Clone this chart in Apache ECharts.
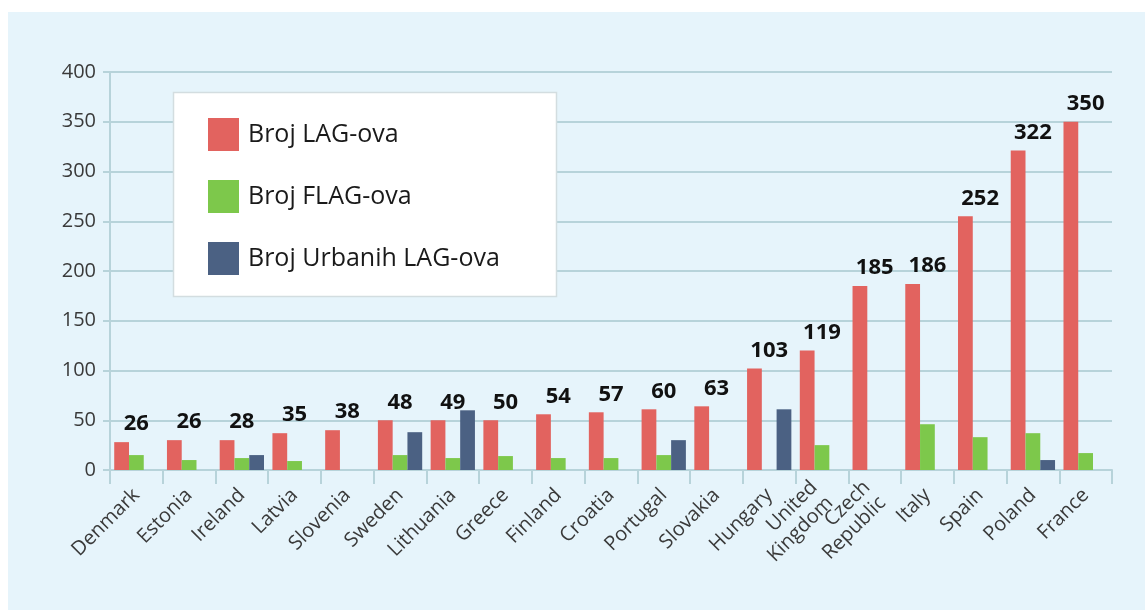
<!DOCTYPE html>
<html>
<head>
<meta charset="utf-8">
<script src="https://cdn.jsdelivr.net/npm/echarts@6/dist/echarts.min.js"></script>
<style>
html,body{margin:0;padding:0;background:#fff;}
#chart{width:1145px;height:610px;}
</style>
</head>
<body>
<div id="chart"></div>
<script>
var categories = ['Denmark','Estonia','Ireland','Latvia','Slovenia','Sweden','Lithuania','Greece','Finland','Croatia','Portugal','Slovakia','Hungary','United\nKingdom','Czech\nRepublic','Italy','Spain','Poland','France'];
var seriesNames = ['Broj LAG-ova','Broj FLAG-ova','Broj Urbanih LAG-ova'];
var lagValues   = [28, 30, 30, 37, 40, 50, 50, 50, 56, 58, 61, 64, 102, 120, 185, 187, 255, 321, 350];
var flagValues  = [15, 10, 12, 9, null, 15, 12, 14, 12, 12, 15, null, null, 25, null, 46, 33, 37, 17];
var urbanValues = [null, null, 15, null, null, 38, 60, null, null, null, 30, null, 61, null, null, null, null, 10, null];
var lagLabels   = ['26','26','28','35','38','48','49','50','54','57','60','63','103','119','185','186','252','322','350'];
var yTicks = {min: 0, max: 400, interval: 50};

var colors = ['#e2635f', '#7dc84b', '#4b6183'];
var font = 'Open Sans';
var gridLeft = 110, gridRight = 33;
var catW = (1145 - gridLeft - gridRight) / categories.length;
var gapPct = 0.16;
var barW = catW * (1 - gapPct) / 3;

var chart = echarts.init(document.getElementById('chart'), null, {renderer: 'canvas'});
chart.setOption({
  backgroundColor: '#ffffff',
  animation: false,
  textStyle: {fontFamily: font},
  graphic: [
    {type: 'rect', z: -10, shape: {x: 8, y: 12, width: 1145, height: 610}, style: {fill: '#e6f4fb'}},
    {type: 'rect', z: 3, shape: {x: 173.5, y: 92.5, width: 383, height: 204}, style: {fill: '#ffffff', stroke: '#d3dde0', lineWidth: 1.5}}
  ],
  legend: {
    orient: 'vertical',
    left: 203, top: 113,
    itemWidth: 31, itemHeight: 33, itemGap: 29,
    icon: 'rect',
    z: 5,
    textStyle: {fontFamily: font, fontSize: 25, color: '#1a1a1a', padding: [0, 0, 0, 4]},
    data: seriesNames
  },
  grid: {left: gridLeft, right: gridRight, top: 72, bottom: 140, containLabel: false, outerBoundsMode: 'none'},
  xAxis: {
    type: 'category',
    data: categories,
    axisLine: {show: true, lineStyle: {color: '#b7d3da', width: 2}},
    axisTick: {show: true, length: 14, lineStyle: {color: '#b7d3da', width: 2}},
    axisLabel: {rotate: 45, margin: 22, fontSize: 20, color: '#3a3a3a', fontFamily: font, interval: 0, lineHeight: 22}
  },
  yAxis: {
    type: 'value',
    min: yTicks.min, max: yTicks.max, interval: yTicks.interval,
    axisLine: {show: true, lineStyle: {color: '#b7d3da', width: 2}},
    axisTick: {show: true, length: 7, lineStyle: {color: '#b7d3da', width: 2}},
    splitLine: {show: true, lineStyle: {color: '#b7d3da', width: 2}},
    axisLabel: {fontSize: 20, color: '#3a3a3a', fontFamily: font, margin: 14}
  },
  series: [
    {
      name: seriesNames[0], type: 'bar', data: lagValues,
      barGap: '0%', barCategoryGap: (gapPct * 100) + '%',
      itemStyle: {color: colors[0]},
      label: {
        show: true, position: 'top', distance: 7, offset: [barW, 0],
        formatter: function (p) { return lagLabels[p.dataIndex]; },
        fontFamily: font, fontWeight: 'bold', fontSize: 22, color: '#111'
      }
    },
    {name: seriesNames[1], type: 'bar', data: flagValues, barGap: '0%', barCategoryGap: (gapPct * 100) + '%', itemStyle: {color: colors[1]}},
    {name: seriesNames[2], type: 'bar', data: urbanValues, barGap: '0%', barCategoryGap: (gapPct * 100) + '%', itemStyle: {color: colors[2]}}
  ]
});
</script>
</body>
</html>
